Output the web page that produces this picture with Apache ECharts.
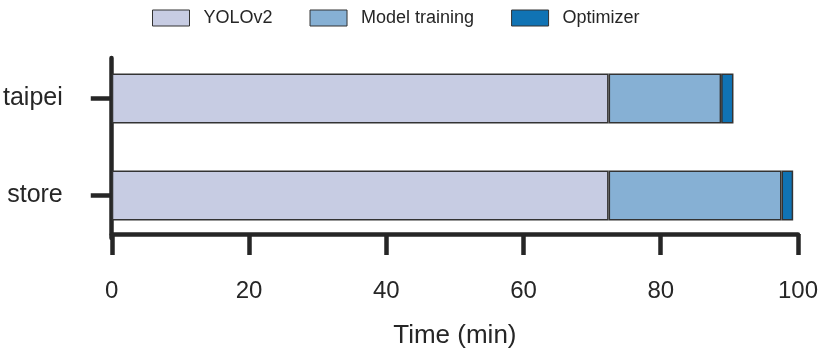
<!DOCTYPE html>
<html>
<head>
<meta charset="utf-8">
<script src="https://cdn.jsdelivr.net/npm/echarts@6/dist/echarts.min.js"></script>
<style>
  html, body { margin: 0; padding: 0; background: #fff; }
  #main { width: 821px; height: 354px; }
</style>
</head>
<body>
<div id="main"></div>
<script>
// bottom to top, as echarts draws a category y axis
var categories = ['store', 'taipei'];
var yoloData = [72.4, 72.4];
var trainData = [25.2, 16.4];
var optData = [1.7, 1.8];
var xTicks = [0, 20, 40, 60, 80, 100];

var font = 'Liberation Sans, Arial, sans-serif';
var ink = '#262626';

var chartDom = document.getElementById('main');
var myChart = echarts.init(chartDom);

function barSeries(name, data, color) {
  return {
    name: name,
    type: 'bar',
    stack: 'total',
    barWidth: 50,
    xAxisIndex: 0,
    yAxisIndex: 0,
    itemStyle: { color: color, borderColor: '#333', borderWidth: 1.5 },
    data: data
  };
}

var option = {
  animation: false,
  textStyle: { fontFamily: font },
  legend: {
    left: 147,
    top: 4,
    itemWidth: 37,
    itemHeight: 16,
    itemGap: 37,
    icon: 'rect',
    itemStyle: { borderColor: '#333', borderWidth: 1 },
    textStyle: { fontSize: 18, color: ink, fontFamily: font, padding: [0, 0, 0, 9] },
    data: ['YOLOv2', 'Model training', 'Optimizer']
  },
  grid: [
    { left: 111, right: 22, top: 50, height: 198 },
    // only carries the short y spine
    { left: 111, right: 22, top: 58, height: 180 }
  ],
  xAxis: [
    {
      type: 'value',
      gridIndex: 0,
      min: 0,
      max: 100,
      interval: 20,
      offset: -10,
      name: 'Time (min)',
      nameLocation: 'middle',
      nameGap: 89,
      nameTextStyle: { fontSize: 26, color: ink, fontFamily: font },
      axisLine: { show: true, lineStyle: { color: ink, width: 4.5 } },
      axisTick: { show: true, length: 21, lineStyle: { color: ink, width: 4.5 } },
      axisLabel: {
        fontSize: 24, color: ink, margin: 45, fontFamily: font,
        formatter: function (v) { return xTicks.indexOf(v) >= 0 ? String(v) : ''; }
      },
      splitLine: { show: false }
    },
    { type: 'value', gridIndex: 1, min: 0, max: 100, show: false }
  ],
  yAxis: [
    {
      type: 'category',
      gridIndex: 0,
      data: categories,
      axisLine: { show: false },
      axisTick: { show: true, alignWithLabel: true, length: 21, lineStyle: { color: ink, width: 4.5 } },
      axisLabel: { fontSize: 25, color: ink, margin: 49, fontFamily: font }
    },
    {
      type: 'category',
      gridIndex: 1,
      data: [''],
      axisLine: { show: true, lineStyle: { color: ink, width: 4.5 } },
      axisTick: { show: false },
      axisLabel: { show: false }
    }
  ],
  series: [
    barSeries('YOLOv2', yoloData, '#c7cce3'),
    barSeries('Model training', trainData, '#86b0d4'),
    barSeries('Optimizer', optData, '#1073b4')
  ]
};

option && myChart.setOption(option);
</script>
</body>
</html>
